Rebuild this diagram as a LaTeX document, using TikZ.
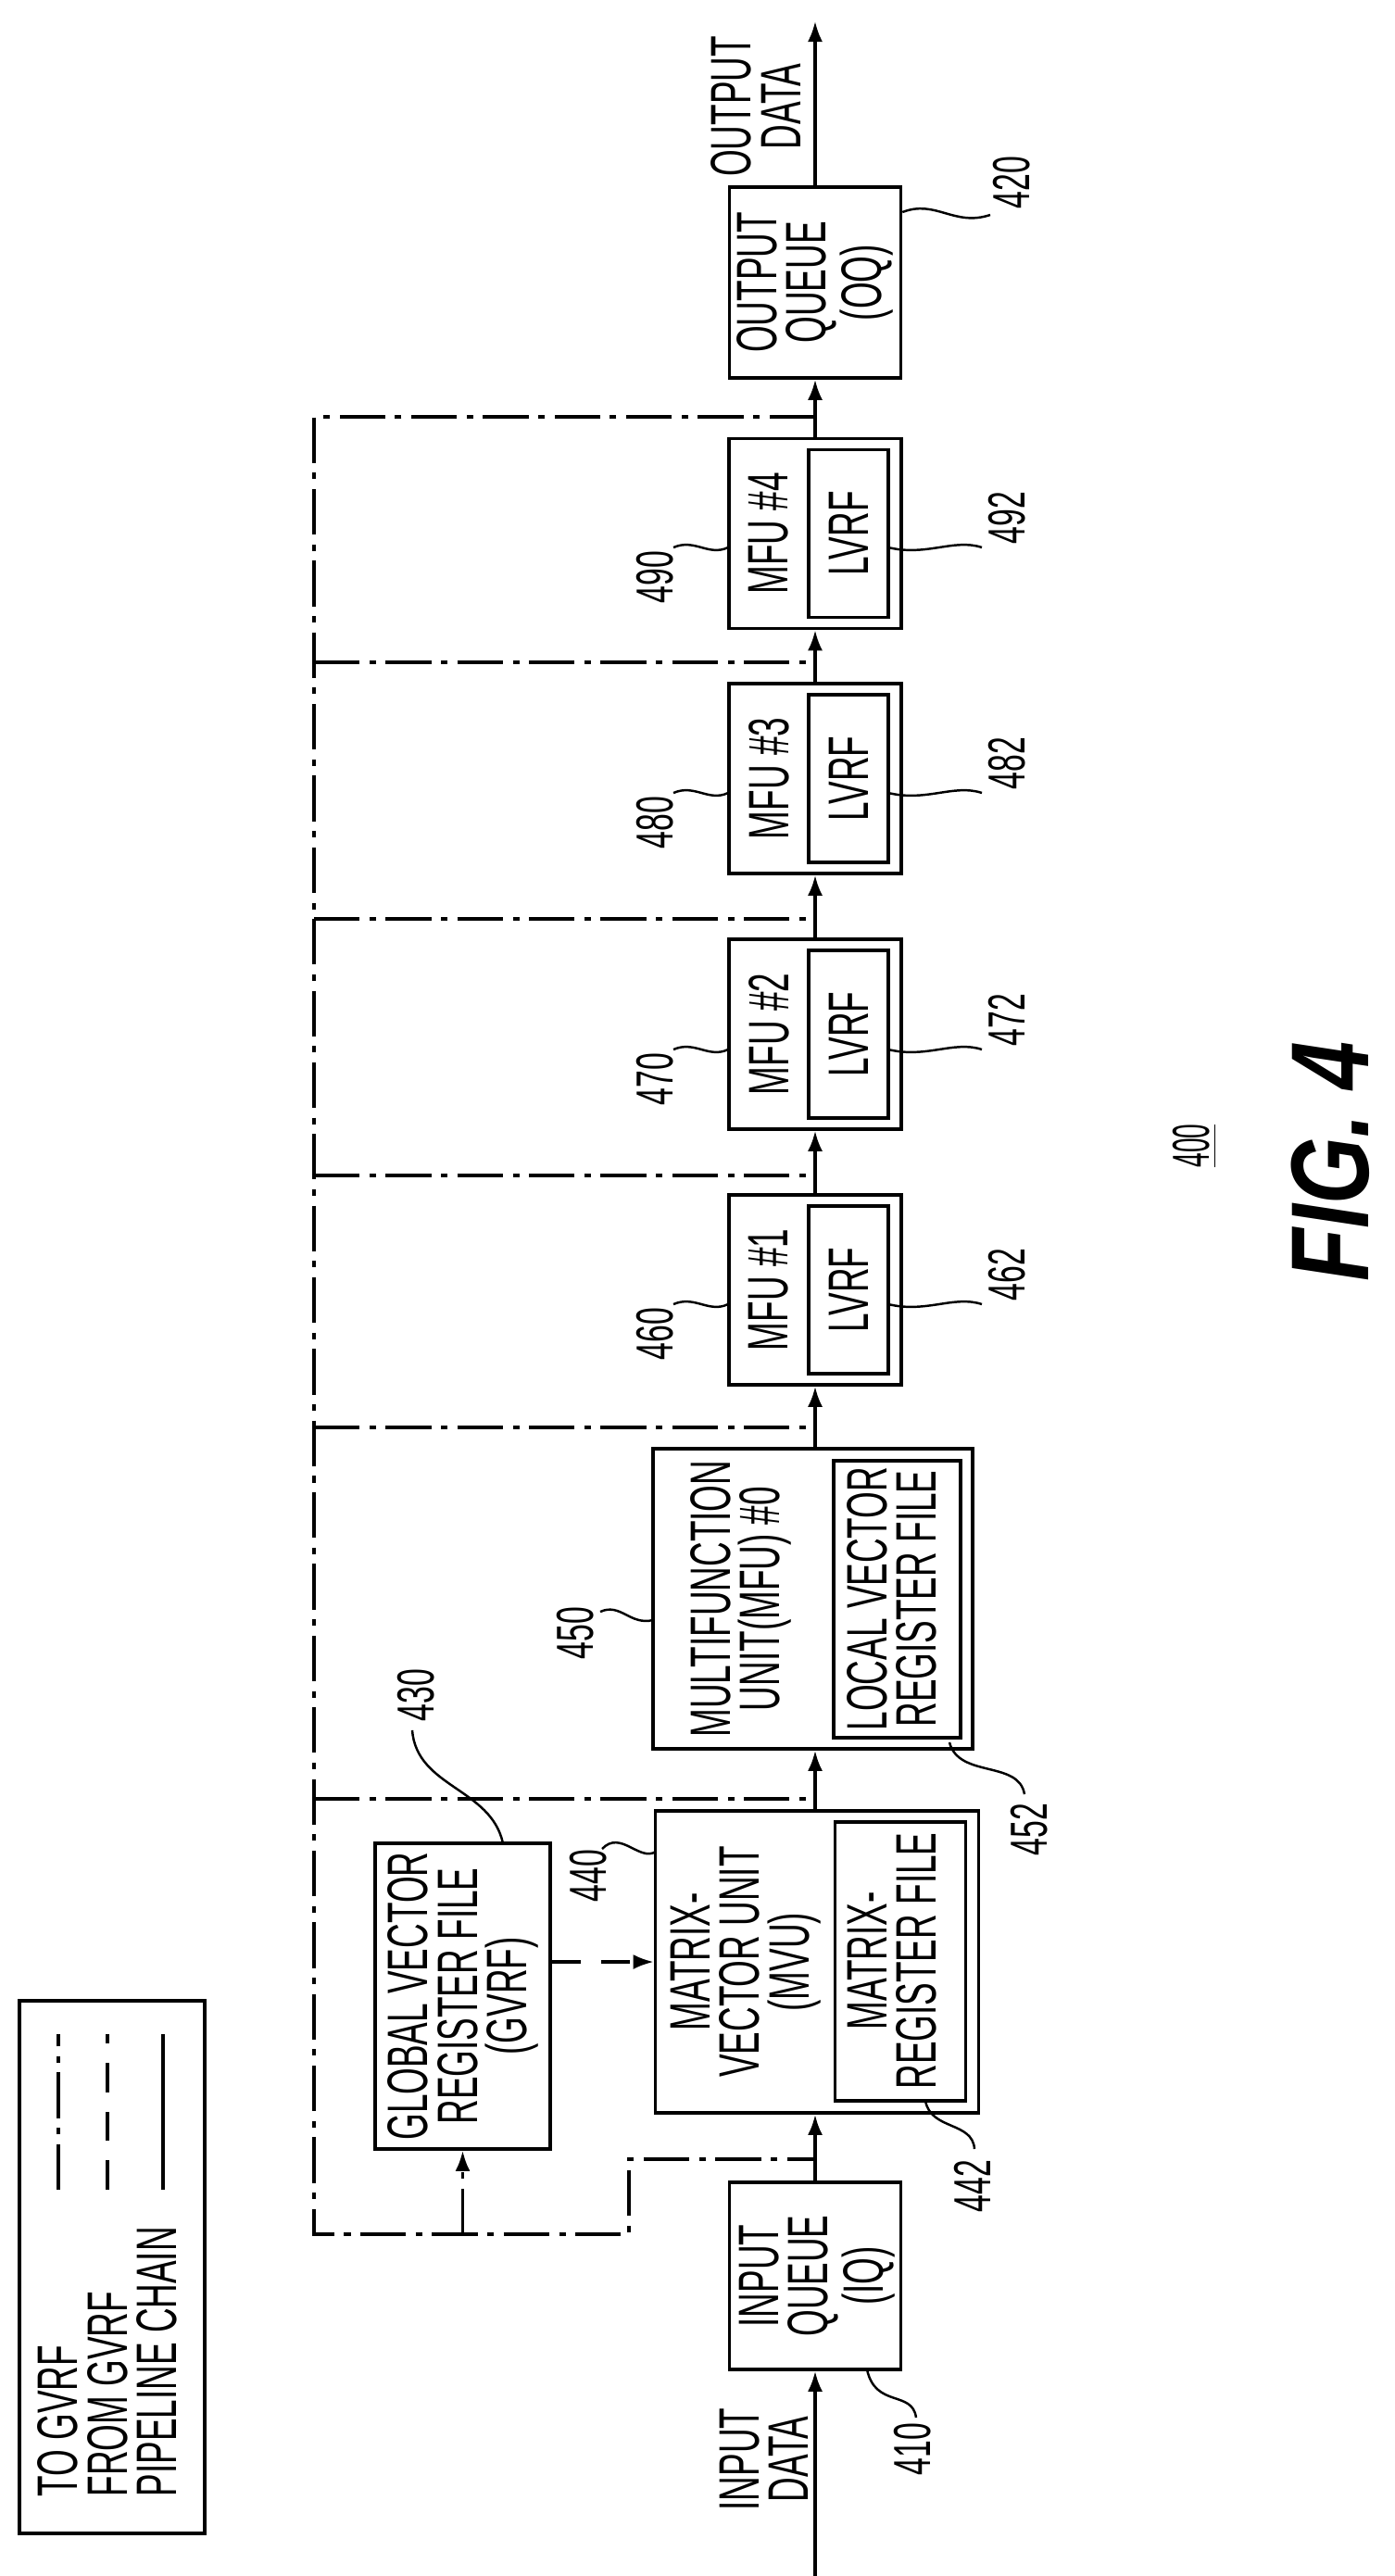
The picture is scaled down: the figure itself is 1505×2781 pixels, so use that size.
\documentclass[tikz,border=0pt]{standalone}
\usepackage{fontspec}
\setmainfont{Liberation Sans}[FakeStretch=0.6]
\newfontfamily\figfont{Liberation Sans}[FakeStretch=0.78]
\newfontfamily\numfont{Liberation Sans}[FakeStretch=0.5]
\usetikzlibrary{arrows.meta}
\begin{document}
\begin{tikzpicture}[x=0.01cm,y=0.01cm,line width=0.9pt,
  box/.style={draw,inner sep=0pt,line width=1pt},
  txt/.style={rotate=90,align=center,inner sep=0pt,font=\fontsize{17.5}{15.2}\selectfont},
  lbl/.style={rotate=90,inner sep=0pt,font=\fontsize{16}{15}\selectfont},
  arr/.style={-{Latex[length=0.22cm,width=0.16cm]}},
  togv/.style={dash pattern=on 14pt off 3pt on 2pt off 3pt},
  fromgv/.style={dash pattern=on 9pt off 6pt},
  lead/.style={line width=0.7pt}]
\useasboundingbox (0,0) rectangle (1505,-2781);
% boxes
\node[box,minimum width=1.85cm,minimum height=2.02cm] (iq) at (880,-2457) {};
\node[box,minimum width=3.49cm,minimum height=3.26cm] (mvu) at (882,-2118) {};
\node[box,minimum width=1.41cm,minimum height=3.01cm] (mrf) at (972,-2117.5) {};
\node[box,minimum width=1.89cm,minimum height=3.30cm] (gvrf) at (499.5,-2155) {};
\node[box,minimum width=3.45cm,minimum height=3.24cm] (mfu0) at (877.5,-1726) {};
\node[box,minimum width=1.37cm,minimum height=2.99cm] (lvrf0) at (968.5,-1726.5) {};
\foreach \n/\y in {1/1392.5,2/1116.5,3/840.5,4/576}{
  \node[box,minimum width=1.86cm,minimum height=2.05cm] (mfu\n) at (880,-\y) {};
  \node[box,minimum width=0.86cm,minimum height=1.81cm] (lvrf\n) at (916,-\y) {};
  \node[txt] (tm\n) at (830,-\y) {MFU \#\n};
  \node[txt] (tl\n) at (916,-\y) {LVRF};
}
\node[box,minimum width=1.85cm,minimum height=2.06cm] (oq) at (880,-305) {};
\node[box,minimum width=2.00cm,minimum height=5.75cm] (leg) at (121,-2447.5) {};
% texts
\node[txt] (tiq) at (882,-2457) {INPUT\\QUEUE\\(IQ)};
\node[txt] (tmvu) at (805,-2118) {MATRIX-\\VECTOR UNIT\\(MVU)};
\node[txt] (tmrf) at (963,-2117) {MATRIX-\\REGISTER FILE};
\node[txt] (tgv) at (500,-2155) {GLOBAL VECTOR\\REGISTER FILE\\(GVRF)};
\node[txt] (tm0) at (800,-1726) {MULTIFUNCTION\\UNIT(MFU) \#0};
\node[txt] (tl0) at (963,-1726) {LOCAL VECTOR\\REGISTER FILE};
\node[txt] (toq) at (880,-305) {OUTPUT\\QUEUE\\(OQ)};
\node[txt] (tin) at (825,-2655) {INPUT\\DATA};
\node[txt] (tout) at (816,-115) {OUTPUT\\DATA};
\node[txt,align=left,anchor=west] (tleg) at (116,-2697) {TO GVRF\\FROM GVRF\\PIPELINE CHAIN};
\node[rotate=90,inner sep=0pt,font=\fontsize{34}{34}\selectfont\figfont\bfseries\itshape] (fig) at (1436,-1254) {FIG. 4};
\node[rotate=90,inner sep=0pt,font=\fontsize{16}{16}\selectfont\numfont] (n400) at (1290,-1237) {\underline{400}};
% legend samples
\coordinate (la1) at (63,-2364); \coordinate (lb1) at (63,-2196);
\coordinate (la2) at (116,-2364); \coordinate (lb2) at (116,-2196);
\coordinate (la3) at (176,-2364); \coordinate (lb3) at (176,-2196);
\draw[togv] (la1) -- (lb1);
\draw[fromgv] (la2) -- (lb2);
\draw (la3) -- (lb3);
% pipeline chain
\coordinate (inS) at (880,-2781);
\coordinate (outE) at (880,-23);
\draw[arr] (inS) -- (iq.south);
\draw[arr] (iq.north) -- (mvu.south -| iq.north);
\draw[arr] (mvu.north -| iq.north) -- (mfu0.south -| iq.north);
\draw[arr] (mfu0.north -| iq.north) -- (mfu1.south);
\draw[arr] (mfu1.north) -- (mfu2.south);
\draw[arr] (mfu2.north) -- (mfu3.south);
\draw[arr] (mfu3.north) -- (mfu4.south);
\draw[arr] (mfu4.north) -- (oq.south);
\draw[arr] (oq.north) -- (outE);
% to GVRF loop
\coordinate (lt) at (339,-450); \coordinate (ltc) at (880,-450);
\coordinate (lb) at (339,-2412);
\coordinate (b1) at (679,-2412); \coordinate (b2) at (679,-2331); \coordinate (b3) at (880,-2331);
\coordinate (gb) at (499.5,-2412);
\draw[togv] (ltc) -- (lt) -- (lb) -- (b1) -- (b2) -- (b3);
\foreach \y in {715,992,1269,1541,1942}{
  \draw[togv] (339,-\y) -- (880,-\y);
}
\draw[togv,arr] (gb) -- (gvrf.south);
% from GVRF
\draw[fromgv,arr] (gvrf.east |- 0,-2118) -- (mvu.west |- 0,-2118);
% leaders and labels
\node[lbl] (l420) at (1092,-197) {420};
\draw[lead] (oq.east |- 0,-229) .. controls (1010,-215) and (1030,-245) .. (1069,-232);
\node[lbl] (l410) at (985,-2644) {410};
\draw[lead] (936,-2558) .. controls (945,-2600) and (985,-2580) .. (989,-2610);
\node[lbl] (l440) at (635,-2025) {440};
\draw[lead] (650,-1996) .. controls (670,-1975) and (690,-2010) .. (708,-1999);
\node[lbl] (l442) at (1050,-2360) {442};
\draw[lead] (999,-2268) .. controls (1005,-2300) and (1050,-2290) .. (1052,-2320);
\node[lbl] (l430) at (449,-1830) {430};
\draw[lead] (445,-1868) .. controls (450,-1930) and (530,-1930) .. (543,-1990);
\node[lbl] (l450) at (621,-1763) {450};
\draw[lead] (648,-1740) .. controls (670,-1730) and (680,-1755) .. (705,-1749);
\node[lbl] (l452) at (1111,-1975) {452};
\draw[lead] (1025,-1881) .. controls (1035,-1920) and (1100,-1900) .. (1106,-1937);
\foreach \n/\t/\a/\b in {1/1290/460/462,2/1015/470/472,3/738/480/482,4/473/490/492}{
  \pgfmathsetmacro\L{\t+118}
  \node[lbl] at (707,-\L-32) {\a};
  \draw[lead] (727,-\L) .. controls (750,-\L+10) and (765,-\L-10) .. (786,-\L);
  \node[lbl] at (1087,-\L+32) {\b};
  \draw[lead] (959,-\L) .. controls (1000,-\L-10) and (1030,-\L+10) .. (1060,-\L);
}
\end{tikzpicture}
\end{document}
